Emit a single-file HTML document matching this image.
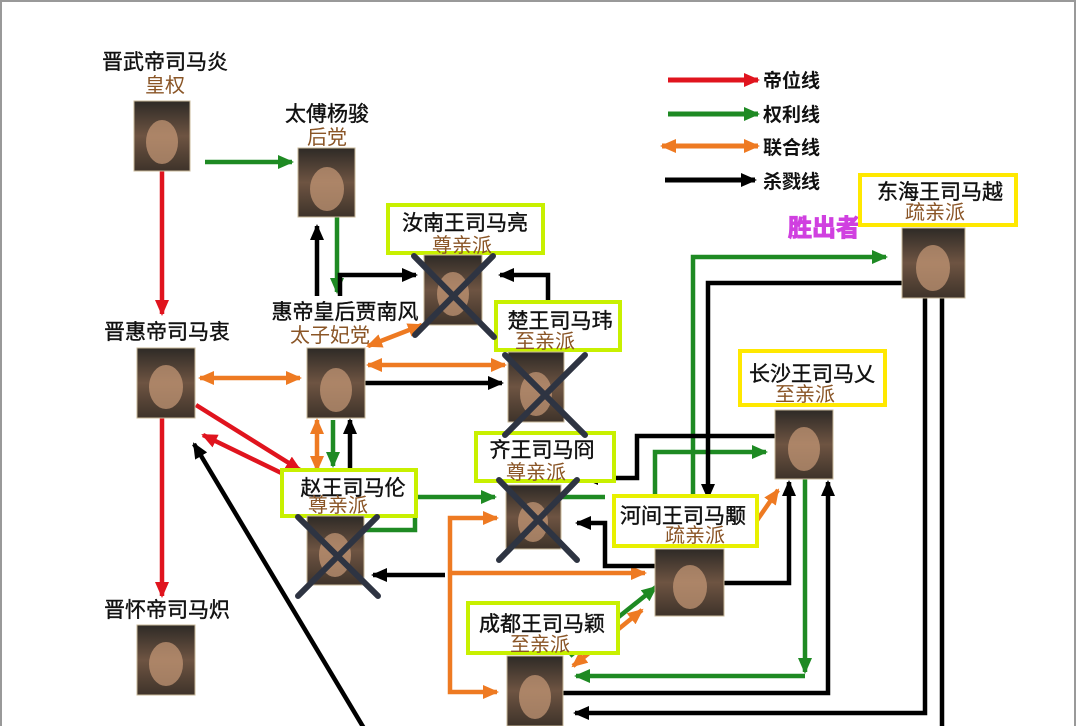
<!DOCTYPE html>
<html><head><meta charset="utf-8"><style>
html,body{margin:0;padding:0;background:#fff;}
svg{display:block;}
text{font-family:"Liberation Sans","Noto Sans CJK SC",sans-serif;}
.n{font-size:21px;fill:#111;text-anchor:middle;stroke:#111;stroke-width:0.4;}
.f{font-size:20px;fill:#8a5526;text-anchor:middle;}
.lg{font-size:19px;fill:#111;font-weight:bold;}
</style></head><body>
<svg width="1080" height="726" viewBox="0 0 1080 726" xmlns="http://www.w3.org/2000/svg">
<defs>
<marker id="r" markerUnits="userSpaceOnUse" markerWidth="16" markerHeight="14" refX="14" refY="7" orient="auto"><path d="M0,0L16,7L0,14z" fill="#e0141e"/></marker>
<marker id="g" markerUnits="userSpaceOnUse" markerWidth="16" markerHeight="14" refX="14" refY="7" orient="auto"><path d="M0,0L16,7L0,14z" fill="#1e8a23"/></marker>
<marker id="o" markerUnits="userSpaceOnUse" markerWidth="16" markerHeight="14" refX="14" refY="7" orient="auto-start-reverse"><path d="M0,0L16,7L0,14z" fill="#ee7a22"/></marker>
<marker id="k" markerUnits="userSpaceOnUse" markerWidth="16" markerHeight="14" refX="14" refY="7" orient="auto"><path d="M0,0L16,7L0,14z" fill="#000"/></marker>
<linearGradient id="p" x1="0" y1="0" x2="0" y2="1"><stop offset="0" stop-color="#2e2a26"/><stop offset="0.5" stop-color="#6e5442"/><stop offset="1" stop-color="#3e332a"/></linearGradient>
</defs>
<rect x="0" y="0" width="1080" height="726" fill="#fff"/>
<rect x="1" y="1" width="1074" height="730" fill="none" stroke="#999" stroke-width="2"/>

<g stroke-width="5" fill="none">
<line x1="668" y1="80" x2="758" y2="80" stroke="#e0141e" marker-end="url(#r)"/>
<line x1="668" y1="114" x2="758" y2="114" stroke="#1e8a23" marker-end="url(#g)"/>
<line x1="662" y1="146" x2="758" y2="146" stroke="#ee7a22" marker-start="url(#o)" marker-end="url(#o)"/>
<line x1="665" y1="180" x2="755" y2="180" stroke="#000" marker-end="url(#k)"/>
</g>
<text class="lg" x="763" y="87">帝位线</text>
<text class="lg" x="763" y="121">权利线</text>
<text class="lg" x="763" y="154">联合线</text>
<text class="lg" x="763" y="188">杀戮线</text>
<text x="788" y="236" font-size="24" font-weight="bold" fill="#d040e0" stroke="#d040e0" stroke-width="1" style="font-family:'Noto Sans CJK SC',sans-serif">胜出者</text>

<g fill="none" stroke-width="4.5">
<line x1="162" y1="171" x2="162" y2="314" stroke="#e0141e" marker-end="url(#r)"/>
<line x1="162" y1="418" x2="162" y2="596" stroke="#e0141e" marker-end="url(#r)"/>
<line x1="196" y1="405" x2="300" y2="470" stroke="#e0141e" marker-end="url(#r)"/>
<line x1="300" y1="482" x2="203" y2="435" stroke="#e0141e" marker-end="url(#r)"/>
<line x1="205" y1="162" x2="292" y2="162" stroke="#1e8a23" marker-end="url(#g)"/>
<line x1="337" y1="217" x2="337" y2="292" stroke="#1e8a23" marker-end="url(#g)"/>
<line x1="333" y1="420" x2="333" y2="466" stroke="#1e8a23" marker-end="url(#g)"/>
<path d="M365,530 H415 V497 H495" stroke="#1e8a23" marker-end="url(#g)"/>
<path d="M560,497 H605" stroke="#1e8a23"/>
<path d="M655,497 V452 H766" stroke="#1e8a23" marker-end="url(#g)"/>
<path d="M693,495 V257 H886" stroke="#1e8a23" marker-end="url(#g)"/>
<path d="M805,478 V672" stroke="#1e8a23" marker-end="url(#g)"/>
<path d="M805,676 H576" stroke="#1e8a23" marker-end="url(#g)"/>
<line x1="570" y1="656" x2="656" y2="587" stroke="#1e8a23" marker-end="url(#g)"/>
<line x1="200" y1="378" x2="300" y2="378" stroke="#ee7a22" marker-start="url(#o)" marker-end="url(#o)"/>
<line x1="368" y1="346" x2="422" y2="325" stroke="#ee7a22" marker-start="url(#o)" marker-end="url(#o)"/>
<line x1="368" y1="365" x2="505" y2="365" stroke="#ee7a22" marker-start="url(#o)" marker-end="url(#o)"/>
<line x1="317" y1="420" x2="317" y2="470" stroke="#ee7a22" marker-start="url(#o)" marker-end="url(#o)"/>
<path d="M497,518 H450 V692 H497" stroke="#ee7a22" marker-start="url(#o)" marker-end="url(#o)"/>
<line x1="450" y1="573" x2="645" y2="573" stroke="#ee7a22" marker-end="url(#o)"/>
<line x1="740" y1="545" x2="778" y2="490" stroke="#ee7a22" marker-start="url(#o)" marker-end="url(#o)"/>
<line x1="573" y1="666" x2="642" y2="610" stroke="#ee7a22" marker-start="url(#o)" marker-end="url(#o)"/>
<line x1="317" y1="296" x2="317" y2="226" stroke="#000" marker-end="url(#k)"/>
<path d="M340,296 V275 H416" stroke="#000" marker-end="url(#k)"/>
<path d="M548,302 V275 H500" stroke="#000" marker-end="url(#k)"/>
<line x1="365" y1="383" x2="502" y2="383" stroke="#000" marker-end="url(#k)"/>
<line x1="350" y1="468" x2="350" y2="420" stroke="#000" marker-end="url(#k)"/>
<line x1="445" y1="575" x2="373" y2="575" stroke="#000" marker-end="url(#k)"/>
<path d="M775,436 H637 V478 H584" stroke="#000" marker-end="url(#k)"/>
<path d="M655,566 H605 V523 H577" stroke="#000" marker-end="url(#k)"/>
<path d="M902,283 H708 V498" stroke="#000" marker-end="url(#k)"/>
<path d="M724,583 H789 V482" stroke="#000" marker-end="url(#k)"/>
<path d="M563,693 H828 V482" stroke="#000" marker-end="url(#k)"/>
<path d="M925,298 V713 H575" stroke="#000" marker-end="url(#k)"/>
<path d="M942,298 V730" stroke="#000"/>
<line x1="365" y1="730" x2="194" y2="444" stroke="#000" marker-end="url(#k)"/>
</g>

<g fill="#fff" stroke-width="4">
<rect x="388" y="205" width="155" height="48" stroke="#c8f000"/>
<rect x="496" y="302" width="124" height="48" stroke="#c8f000"/>
<rect x="282" y="470" width="134" height="46" stroke="#c8f000"/>
<rect x="476" y="433" width="138" height="48" stroke="#c8f000"/>
<rect x="614" y="496" width="143" height="50" stroke="#e8f000"/>
<rect x="468" y="603" width="150" height="50" stroke="#c8f000"/>
<rect x="740" y="351" width="145" height="54" stroke="#ffe800"/>
<rect x="860" y="175" width="156" height="50" stroke="#ffe800"/>
</g>

<text class="n" x="165" y="69">晋武帝司马炎</text><text class="f" x="165" y="92">皇权</text>
<text class="n" x="327" y="121">太傅杨骏</text><text class="f" x="327" y="144">后党</text>
<text class="n" x="465" y="230">汝南王司马亮</text><text class="f" x="462" y="252">尊亲派</text>
<text class="n" x="167" y="339">晋惠帝司马衷</text>
<text class="n" x="345" y="319">惠帝皇后贾南风</text><text class="f" x="330" y="342">太子妃党</text>
<text class="n" x="560" y="328">楚王司马玮</text><text class="f" x="545" y="348">至亲派</text>
<text class="n" x="812" y="381">长沙王司马乂</text><text class="f" x="805" y="401">至亲派</text>
<text class="n" x="542" y="457">齐王司马冏</text><text class="f" x="536" y="479">尊亲派</text>
<text class="n" x="353" y="495">赵王司马伦</text><text class="f" x="338" y="512">尊亲派</text>
<text class="n" x="683" y="523">河间王司马颙</text><text class="f" x="695" y="542">疏亲派</text>
<text class="n" x="542" y="631">成都王司马颖</text><text class="f" x="540" y="651">至亲派</text>
<text class="n" x="940" y="199">东海王司马越</text><text class="f" x="935" y="219">疏亲派</text>
<text class="n" x="167" y="617">晋怀帝司马炽</text>

<g fill="url(#p)" stroke="#c8b89a" stroke-width="1">
<rect x="134" y="101" width="56" height="70"/>
<rect x="298" y="148" width="57" height="69"/>
<rect x="424" y="255" width="58" height="70"/>
<rect x="137" y="348" width="58" height="70"/>
<rect x="307" y="348" width="58" height="70"/>
<rect x="508" y="352" width="56" height="70"/>
<rect x="307" y="516" width="57" height="69"/>
<rect x="506" y="485" width="55" height="64"/>
<rect x="775" y="410" width="58" height="69"/>
<rect x="655" y="549" width="69" height="67"/>
<rect x="902" y="228" width="63" height="70"/>
<rect x="507" y="656" width="56" height="70"/>
<rect x="137" y="625" width="58" height="70"/>
</g>
<g fill="#c89a78" opacity="0.7">
<ellipse cx="162" cy="142" rx="16" ry="22"/><ellipse cx="327" cy="189" rx="17" ry="22"/>
<ellipse cx="453" cy="294" rx="16" ry="22"/><ellipse cx="166" cy="387" rx="17" ry="22"/>
<ellipse cx="336" cy="390" rx="16" ry="22"/><ellipse cx="536" cy="394" rx="16" ry="22"/>
<ellipse cx="335" cy="555" rx="16" ry="22"/><ellipse cx="533" cy="522" rx="15" ry="20"/>
<ellipse cx="804" cy="449" rx="16" ry="22"/><ellipse cx="690" cy="587" rx="17" ry="22"/>
<ellipse cx="933" cy="268" rx="17" ry="23"/><ellipse cx="535" cy="697" rx="16" ry="22"/>
<ellipse cx="166" cy="664" rx="17" ry="22"/>
</g>

<g stroke="#2e3442" stroke-width="6" stroke-linecap="round">
<line x1="414" y1="256" x2="494" y2="337"/><line x1="493" y1="256" x2="415" y2="335"/>
<line x1="505" y1="355" x2="585" y2="435"/><line x1="585" y1="355" x2="505" y2="435"/>
<line x1="298" y1="517" x2="378" y2="596"/><line x1="377" y1="517" x2="298" y2="596"/>
<line x1="499" y1="480" x2="577" y2="560"/><line x1="577" y1="480" x2="499" y2="560"/>
</g>
</svg>
</body></html>
